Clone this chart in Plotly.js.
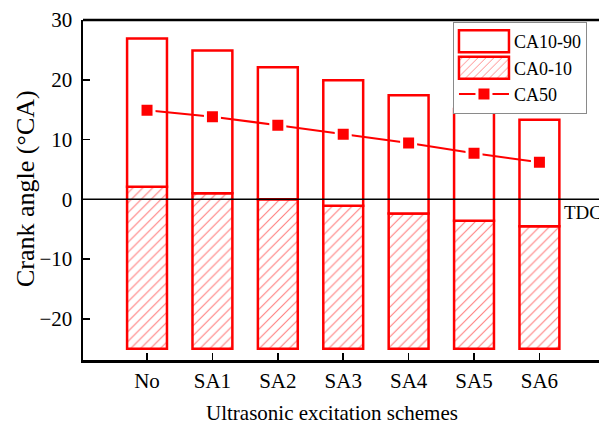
<!DOCTYPE html>
<html>
<head>
<meta charset="utf-8">
<script src="https://cdn.plot.ly/plotly-3.0.1.min.js"></script>
<style>
  html, body { margin: 0; padding: 0; background: #fff; overflow: hidden; }
  #chart { width: 599px; height: 424px; }
</style>
</head>
<body>
<div id="chart"></div>
<script>
// Combustion phasing for each ultrasonic excitation scheme (°CA)
const categories = ['No', 'SA1', 'SA2', 'SA3', 'SA4', 'SA5', 'SA6'];
const caStart = [-25, -25, -25, -25, -25, -25, -25];   // start of the CA0-10 interval
const ca10 = [2.1, 1.0, 0.0, -1.1, -2.4, -3.6, -4.5];  // 10 % mass fraction burned
const ca90 = [26.9, 24.9, 22.1, 19.9, 17.4, 15.1, 13.3]; // 90 % mass fraction burned
const ca50 = [14.9, 13.8, 12.4, 10.9, 9.4, 7.7, 6.2];  // 50 % mass fraction burned
const yTicks = [-20, -10, 0, 10, 20, 30];

const RED = '#ff0000';
const FONT = 'Liberation Serif';

const earlyLen = ca10.map((v, i) => v - caStart[i]);
const mainLen = ca90.map((v, i) => v - ca10[i]);

const barLine = { color: RED, width: 2.5 };

const traces = [
  {
    type: 'bar', name: 'CA0-10', legendrank: 2,
    x: categories, y: earlyLen, base: caStart, width: 0.61,
    marker: {
      color: 'white', line: barLine,
      pattern: { shape: '/', fgcolor: RED, bgcolor: 'white', fgopacity: 0.5, size: 7, solidity: 0.16 }
    },
    hoverinfo: 'skip'
  },
  {
    type: 'bar', name: 'CA10-90', legendrank: 1,
    x: categories, y: mainLen, base: ca10, width: 0.61,
    marker: { color: 'white', line: barLine },
    hoverinfo: 'skip'
  },
  {
    type: 'scatter', mode: 'lines+markers', name: 'CA50', legendrank: 3,
    x: categories, y: ca50,
    line: { color: RED, width: 2 },
    marker: { symbol: 'square', size: 14, color: RED, line: { color: 'white', width: 3 } },
    hoverinfo: 'skip'
  }
];

const layout = {
  width: 599, height: 424,
  margin: { l: 83, r: 0, t: 20, b: 64 },
  paper_bgcolor: 'white', plot_bgcolor: 'white',
  font: { family: FONT, size: 20, color: 'black' },
  barmode: 'overlay',
  showlegend: true,
  legend: {
    x: 0.717, y: 0.994, xanchor: 'left', yanchor: 'top',
    bgcolor: 'white', bordercolor: '#8a8a8a', borderwidth: 1,
    font: { family: FONT, size: 18, color: 'black' },
    itemwidth: 50, tracegroupgap: 0
  },
  xaxis: {
    type: 'category', range: [-0.979, 6.911],
    showline: true, linecolor: 'black', linewidth: 2.5,
    ticks: 'inside', ticklen: 7, tickwidth: 1.5, tickcolor: 'black',
    showgrid: false, zeroline: false,
    tickfont: { family: FONT, size: 21, color: 'black' }
  },
  yaxis: {
    range: [-26.9, 30],
    tickvals: yTicks,
    showline: true, linecolor: 'black', linewidth: 2.5,
    ticks: 'inside', ticklen: 7, tickwidth: 1.5, tickcolor: 'black',
    showgrid: false, zeroline: false,
    ticklabelstandoff: 4,
    tickfont: { family: FONT, size: 21, color: 'black' }
  },
  shapes: [
    // top frame line
    { type: 'line', xref: 'paper', yref: 'paper', x0: 0, x1: 1, y0: 1, y1: 1,
      line: { color: 'black', width: 2.5 } },
    // TDC reference line
    { type: 'line', xref: 'paper', yref: 'y', x0: 0, x1: 1, y0: 0, y1: 0,
      layer: 'above', line: { color: 'black', width: 1.5 } }
  ],
  annotations: [
    { text: 'TDC', xref: 'paper', yref: 'y', x: 0.928, y: 0, xanchor: 'left', yanchor: 'top',
      yshift: -1, showarrow: false, font: { family: FONT, size: 19, color: 'black' } },
    { text: 'Ultrasonic excitation schemes', xref: 'paper', yref: 'paper',
      x: (332 - 83) / 516, y: -0.155, xanchor: 'center', yanchor: 'middle',
      showarrow: false, font: { family: FONT, size: 21, color: 'black' } },
    { text: 'Crank angle (°CA)', xref: 'paper', yref: 'paper', textangle: -90,
      x: (25 - 83) / 516, y: (360 - 189) / 340, xanchor: 'center', yanchor: 'middle',
      showarrow: false, font: { family: FONT, size: 26, color: 'black' } }
  ]
};

// widen the bar swatches in the legend into long boxes
function widenLegendBars(gd) {
  gd.querySelectorAll('.legend .traces').forEach(item => {
    item.querySelectorAll('.legendpoints path').forEach(p => {
      const cls = p.getAttribute('class') || '';
      const d = p.getAttribute('d') || '';
      if (d.indexOf('M6,6H-6V-6H6Z') === 0 || cls.indexOf('legendbar') !== -1) {
        p.setAttribute('d', 'M-25,-11H25V11H-25Z');
      }
    });
  });
}

const gd = document.getElementById('chart');
Plotly.newPlot(gd, traces, layout, { staticPlot: true, displayModeBar: false }).then(() => {
  widenLegendBars(gd);
  gd.on('plotly_afterplot', () => widenLegendBars(gd));
  setTimeout(() => widenLegendBars(gd), 50);
});
</script>
</body>
</html>
